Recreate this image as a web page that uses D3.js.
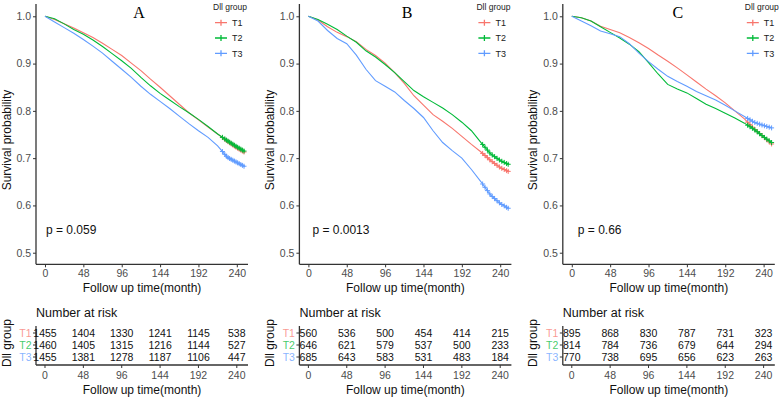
<!DOCTYPE html>
<html><head><meta charset="utf-8">
<script src="https://cdn.jsdelivr.net/npm/d3@7"></script>
<style>body{margin:0;background:#fff}svg{display:block}text{font-family:"Liberation Sans",Arial,sans-serif}</style>
</head><body>
<script>
// ---- data ----
const times = [0,12,24,36,48,60,72,84,96,108,120,132,144,156,168,180,192,204,216,228,240,250];
const groups = ["T1","T2","T3"];
const colors = ["#F8766D","#00BA38","#619CFF"];
const yTicks = [0.5,0.6,0.7,0.8,0.9,1.0];
const xTicks = [0,48,96,144,192,240];
const panelLabels = ["A","B","C"];
const pValues = ["p = 0.059","p = 0.0013","p = 0.66"];

const survA_T1 = [1,0.993,0.984,0.975,0.965,0.955,0.943,0.930,0.917,0.901,0.885,0.867,0.850,0.832,0.814,0.796,0.781,0.766,0.751,0.736,0.722,0.712];
const survA_T2 = [1,0.995,0.984,0.972,0.962,0.950,0.936,0.921,0.906,0.890,0.871,0.853,0.837,0.823,0.809,0.796,0.782,0.767,0.751,0.737,0.724,0.714];
const survA_T3 = [1,0.988,0.976,0.964,0.951,0.937,0.922,0.905,0.888,0.871,0.852,0.835,0.820,0.805,0.789,0.773,0.758,0.744,0.726,0.702,0.691,0.682];

const survB_T1 = [1,0.992,0.978,0.966,0.957,0.946,0.930,0.917,0.901,0.881,0.858,0.832,0.812,0.792,0.778,0.763,0.746,0.729,0.713,0.695,0.680,0.672];
const survB_T2 = [1,0.993,0.983,0.972,0.958,0.945,0.927,0.914,0.898,0.881,0.862,0.843,0.830,0.818,0.806,0.792,0.776,0.758,0.733,0.709,0.695,0.687];
const survB_T3 = [1,0.990,0.970,0.953,0.942,0.918,0.888,0.864,0.852,0.840,0.822,0.805,0.786,0.758,0.733,0.716,0.700,0.676,0.650,0.622,0.604,0.594];

const survC_T1 = [1,0.997,0.990,0.979,0.972,0.965,0.955,0.944,0.932,0.918,0.905,0.891,0.876,0.861,0.846,0.832,0.817,0.800,0.783,0.762,0.745,0.730];
const survC_T2 = [1,0.997,0.990,0.978,0.966,0.954,0.941,0.925,0.902,0.878,0.856,0.846,0.838,0.826,0.814,0.805,0.795,0.785,0.774,0.761,0.745,0.733];
const survC_T3 = [1,0.990,0.980,0.969,0.963,0.957,0.942,0.922,0.904,0.888,0.873,0.862,0.852,0.841,0.832,0.823,0.812,0.800,0.788,0.776,0.769,0.764];

const censorA = [222,225,227,229,231,233,235,237,239,241,243,245,247,249];
const censorB = [218,221,224,227,230,233,236,239,242,245,248,250];
const censorC = [220,223,226,229,232,235,238,241,244,247,250];

const riskTimes = [0,48,96,144,192,240];
const riskA_T1 = [1455,1404,1330,1241,1145,538];
const riskA_T2 = [1460,1405,1315,1216,1144,527];
const riskA_T3 = [1455,1381,1278,1187,1106,447];
const riskB_T1 = [560,536,500,454,414,215];
const riskB_T2 = [646,621,579,537,500,233];
const riskB_T3 = [685,643,583,531,483,184];
const riskC_T1 = [895,868,830,787,731,323];
const riskC_T2 = [814,784,736,679,644,294];
const riskC_T3 = [770,738,695,656,623,263];

const panels = [
  {surv:[survA_T1,survA_T2,survA_T3], censor:censorA, risk:[riskA_T1,riskA_T2,riskA_T3], ox:0},
  {surv:[survB_T1,survB_T2,survB_T3], censor:censorB, risk:[riskB_T1,riskB_T2,riskB_T3], ox:263.4},
  {surv:[survC_T1,survC_T2,survC_T3], censor:censorC, risk:[riskC_T1,riskC_T2,riskC_T3], ox:526.8}
];

const W = 783, H = 398;
const svg = d3.select("body").append("svg").attr("width",W).attr("height",H);
const axisCol = "#333333", tickTxt = "#4d4d4d";

const y = d3.scaleLinear().domain([0.4755,1.026]).range([264.3,4]);

panels.forEach((p,pi)=>{
  const g = svg.append("g").attr("transform",`translate(${p.ox},0)`);
  const x = d3.scaleLinear().domain([-11.25,254]).range([36,248]);

  // curves
  const line = d3.line().x((d,i)=>x(times[i])).y(d=>y(d)).curve(d3.curveLinear);
  p.surv.forEach((s,si)=>{
    g.append("path").attr("d",line(s)).attr("fill","none").attr("stroke",colors[si]).attr("stroke-width",1.1);
    const interp = d3.scaleLinear().domain(times).range(s);
    p.censor.forEach(t=>{
      const cx = x(t), cy = y(interp(t));
      g.append("path").attr("d",`M${cx-2.5},${cy}H${cx+2.5}M${cx},${cy-2.5}V${cy+2.5}`)
        .attr("stroke",colors[si]).attr("stroke-width",1);
    });
  });

  // y axis
  const yAx = g.append("g").attr("transform","translate(36,0)")
    .call(d3.axisLeft(y).tickValues(yTicks).tickFormat(d3.format(".1f")).tickSize(3).tickPadding(2));
  yAx.select(".domain").attr("stroke",axisCol).attr("stroke-width",1.3).attr("d",`M0,4V264.3`);
  yAx.selectAll(".tick line").attr("stroke",axisCol);
  yAx.selectAll(".tick text").attr("fill",tickTxt).style("font-size","10.5px");

  // x axis
  const xAx = g.append("g").attr("transform","translate(0,264.3)")
    .call(d3.axisBottom(x).tickValues(xTicks).tickSize(3).tickPadding(2));
  xAx.select(".domain").attr("stroke",axisCol).attr("stroke-width",1.3).attr("d",`M36,0H248`);
  xAx.selectAll(".tick line").attr("stroke",axisCol);
  xAx.selectAll(".tick text").attr("fill",tickTxt).style("font-size","10.5px");

  g.append("text").attr("x",142).attr("y",292).attr("text-anchor","middle").style("font-size","12px").attr("fill","#111").text("Follow up time(month)");
  g.append("text").attr("transform","translate(10.5,140) rotate(-90)").attr("text-anchor","middle").style("font-size","12px").attr("fill","#111").text("Survival probability");

  // panel label
  g.append("text").attr("x",139+(pi===1?4.7:pi===2?12:0)).attr("y",18).attr("text-anchor","middle")
    .style("font-family","'Liberation Serif','Times New Roman',serif").style("font-size","16px").attr("fill","#000").text(panelLabels[pi]);

  // p value
  g.append("text").attr("x",46+(pi===1?3:pi===2?5:0)).attr("y",234).style("font-size","12px").attr("fill","#111").text(pValues[pi]);

  // legend
  const lx = 215 + (pi===2?5:0);
  g.append("text").attr("x",lx-2).attr("y",9.5).style("font-size","8.5px").attr("fill","#222").text("Dll group");
  groups.forEach((gr,gi)=>{
    const ly = 22.7 + gi*15.3;
    g.append("path").attr("d",`M${lx},${ly}H${lx+12}M${lx+6},${ly-3}V${ly+3}`).attr("stroke",colors[gi]).attr("stroke-width",1.3);
    g.append("text").attr("x",lx+17).attr("y",ly+3.2).style("font-size","9px").attr("fill","#222").text(gr);
  });

  // risk table
  const rowY = [333,345,357];
  g.append("text").attr("x",36).attr("y",316.5).style("font-size","12.5px").attr("fill","#111").text("Number at risk");
  g.append("line").attr("x1",36).attr("x2",36).attr("y1",326).attr("y2",365).attr("stroke",axisCol).attr("stroke-width",1.3);
  g.append("line").attr("x1",36).attr("x2",248).attr("y1",365).attr("y2",365).attr("stroke",axisCol).attr("stroke-width",1.3);
  groups.forEach((gr,gi)=>{
    g.append("line").attr("x1",33).attr("x2",36).attr("y1",rowY[gi]).attr("y2",rowY[gi]).attr("stroke",axisCol);
    g.append("text").attr("x",31.5).attr("y",rowY[gi]+3.6).attr("text-anchor","end").style("font-size","10.5px").attr("fill",colors[gi]).attr("fill-opacity",0.75).text(gr);
    p.risk[gi].forEach((v,vi)=>{
      g.append("text").attr("x",x(riskTimes[vi])).attr("y",rowY[gi]+3.8).attr("text-anchor","middle").style("font-size","10.5px").attr("fill","#111").text(v);
    });
  });
  xTicks.forEach(t=>{
    g.append("line").attr("x1",x(t)).attr("x2",x(t)).attr("y1",365).attr("y2",368).attr("stroke",axisCol);
    g.append("text").attr("x",x(t)).attr("y",379).attr("text-anchor","middle").style("font-size","10.5px").attr("fill",tickTxt).text(t);
  });
  g.append("text").attr("x",142).attr("y",393.5).attr("text-anchor","middle").style("font-size","12px").attr("fill","#111").text("Follow up time(month)");
  g.append("text").attr("transform","translate(10.5,343) rotate(-90)").attr("text-anchor","middle").style("font-size","12px").attr("fill","#111").text("Dll group");
});
</script>
</body></html>
